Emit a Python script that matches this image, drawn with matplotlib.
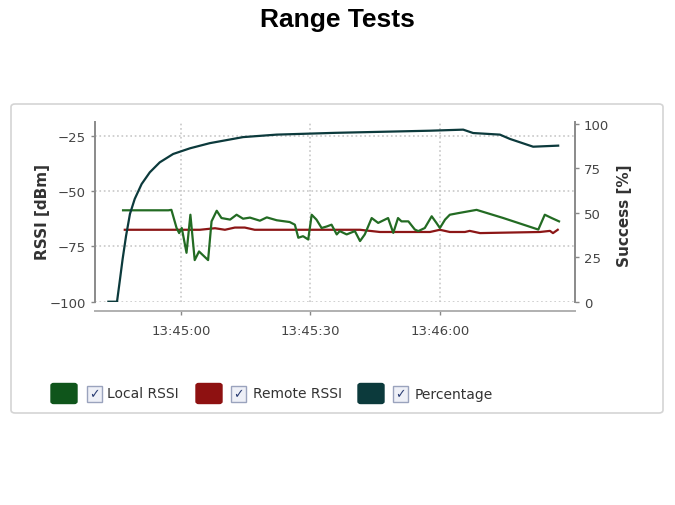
import matplotlib
matplotlib.use("Agg")
import matplotlib.pyplot as plt
from matplotlib.patches import FancyBboxPatch, Rectangle
from matplotlib.ticker import FuncFormatter

# seconds relative to 13:45:00
pct_t = [-16.8, -14.8, -14.1, -13.5, -12.7, -11.8, -10.7, -9.1, -7.2, -4.9, -1.8,
         2.1, 6.7, 14.4, 22.2, 35.7, 57.7, 65.4, 67.7, 73.9, 76.2, 81.6, 87.4]
pct_v = [0, 0, 12.8, 24, 37.1, 49.4, 57.8, 66.2, 72.8, 78.4, 83.1,
         86.3, 89.2, 92.6, 94, 95, 96.2, 96.8, 94.9, 94, 91.6, 87.2, 87.8]

local_t = [-13.4, -2.9, -2.2, -1.0, -0.4, 0.2, 1.3, 2.2, 3.2, 4.2, 6.3, 7.1, 8.3, 9.4,
           11.4, 12.9, 14.4, 16.0, 18.3, 19.9, 22.2, 25.2, 26.4, 27.2, 28.3, 29.5,
           30.3, 31.4, 32.6, 33.8, 34.9, 36.1, 36.8, 38.4, 40.3, 41.5, 42.6, 44.2,
           45.7, 48.0, 49.2, 50.3, 51.1, 52.7, 54.2, 55.0, 56.5, 58.1, 59.2, 60.0,
           61.2, 62.3, 64.2, 68.5, 74.7, 82.8, 84.3, 85.9, 87.6]
local_v = [-58.7, -58.7, -58.5, -66.7, -69, -66.7, -77.9, -60.7, -81.2, -77.3, -81.2,
           -63.7, -58.9, -62.2, -62.9, -60.7, -62.5, -62, -63.4, -61.9, -63.2, -64,
           -65.2, -71.1, -70.4, -71.9, -60.7, -62.9, -66.7, -66, -65.2, -69.6, -68.1,
           -69.6, -68.1, -72.6, -69.6, -62.2, -64.4, -62.2, -68.9, -62.2, -63.7, -63.7,
           -67.4, -68.1, -66.7, -61.4, -64.4, -66.7, -62.9, -60.7, -60, -58.5, -62.2,
           -67.4, -60.7, -62.2, -63.7]

remote_t = [-13.0, 4.4, 7.9, 10.2, 12.5, 14.8, 17.1, 34.5, 41.5, 46.1, 57.7, 60.0,
            62.3, 65.8, 66.9, 69.3, 83.2, 85.5, 86.2, 87.3]
remote_v = [-67.5, -67.5, -66.8, -67.5, -66.5, -66.5, -67.5, -67.5, -67.5, -68.5,
            -68.5, -67.5, -68.5, -68.5, -68.0, -69, -68.5, -68, -69, -67.5]

rssi_ticks = [-25, -50, -75, -100]
pct_ticks = [0, 25, 50, 75, 100]
time_ticks = [0, 30, 60]
series_names = ["Local RSSI", "Remote RSSI", "Percentage"]

c_local = "#236b23"
c_remote = "#8c1616"
c_pct = "#0c3a3c"
legend_cols = ["#0f551b", "#8e1111", "#0c3a3c"]

W, H = 675, 506
fig = plt.figure(figsize=(W / 100, H / 100), dpi=100)


def fx(px):
    return px / W


def fy(py):
    return 1 - py / H


fig.text(0.5, fy(20), "Range Tests", ha="center", va="center",
         fontsize=19, fontweight="bold", family="Liberation Sans")

panel = FancyBboxPatch((fx(11), fy(414)), fx(663) - fx(11), fy(105) - fy(414),
                       boxstyle="round,pad=0,rounding_size=0.006",
                       transform=fig.transFigure, facecolor="white",
                       edgecolor="#d4d4d4", lw=1.2, zorder=-10)
fig.patches.append(panel)

ax = fig.add_axes([fx(95), fy(302.7), fx(575) - fx(95), fy(123) - fy(302.7)])
ax.patch.set_alpha(0)
ax2 = ax.twinx()
ax2.patch.set_alpha(0)

ax.set_xlim(-19.9, 91.3)
ax.set_ylim(-100, -18.8)
ax2.set_ylim(0, 101.1)

ax.plot(local_t, local_v, color=c_local, lw=1.6, zorder=3)
ax.plot(remote_t, remote_v, color=c_remote, lw=1.6, zorder=2)
ax2.plot(pct_t, pct_v, color=c_pct, lw=1.6)

ax.set_yticks(rssi_ticks)
ax2.set_yticks(pct_ticks)
ax.set_xticks(time_ticks)

base = 13 * 3600 + 45 * 60


def fmt(v, pos):
    s = int(round(base + v))
    return "%d:%02d:%02d" % (s // 3600, (s % 3600) // 60, s % 60)


ax.xaxis.set_major_formatter(FuncFormatter(fmt))

ax.grid(True, color="#c8c8c8", linestyle=":", lw=1.2)

for a in (ax, ax2):
    a.spines["top"].set_visible(False)
    a.tick_params(colors="#888888", labelcolor="#444444", labelsize=9.5,
                  length=3, width=1)

ax.spines["right"].set_visible(False)
ax2.spines["left"].set_visible(False)
ax2.spines["bottom"].set_visible(False)
ax.spines["left"].set_color("#8a8a8a")
ax.spines["left"].set_linewidth(1.4)
ax2.spines["right"].set_color("#8a8a8a")
ax2.spines["right"].set_linewidth(1.4)
ax.spines["bottom"].set_position(("outward", 7))
ax.spines["bottom"].set_color("#b0b0b0")
ax.spines["bottom"].set_linewidth(1.4)
ax.tick_params(axis="x", pad=6)

fig.text(fx(43), fy(212), "RSSI [dBm]", rotation=90, ha="center", va="center",
         fontsize=11, fontweight="bold", color="#333333")
fig.text(fx(625), fy(216), "Success [%]", rotation=90, ha="center", va="center",
         fontsize=11, fontweight="bold", color="#333333")

# legend with colour swatches and check boxes
sw_x = [51, 196, 358]
cb_x = [87, 231, 393]
tx_x = [107, 253, 415]
ly = 394.5
for name, col, sx, cx, tx in zip(series_names, legend_cols, sw_x, cb_x, tx_x):
    sw = FancyBboxPatch((fx(sx), fy(ly + 10)), fx(26), fy(0) - fy(20),
                        boxstyle="round,pad=0,rounding_size=0.004",
                        transform=fig.transFigure, facecolor=col,
                        edgecolor=col, lw=1)
    fig.patches.append(sw)
    cb = Rectangle((fx(cx), fy(ly + 8)), fx(15), fy(0) - fy(16),
                   transform=fig.transFigure, facecolor="#eef0f7",
                   edgecolor="#9aa3bd", lw=1)
    fig.patches.append(cb)
    fig.text(fx(cx + 7.5), fy(ly), "\u2713", ha="center", va="center",
             fontsize=9, color="#2b3d73", fontweight="bold")
    fig.text(fx(tx), fy(ly), name, ha="left", va="center", fontsize=10,
             color="#333333")

fig.savefig("out.png", dpi=100)
